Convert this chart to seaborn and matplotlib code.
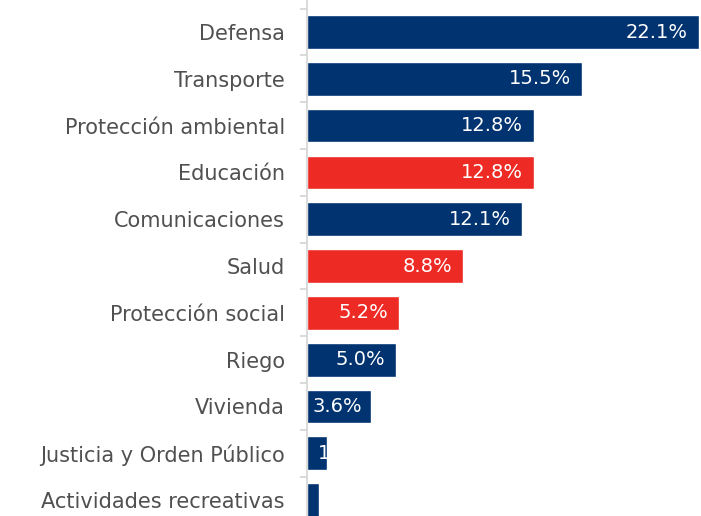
import matplotlib
matplotlib.use("Agg")
import matplotlib.pyplot as plt
import seaborn as sns
import pandas as pd
import numpy as np

categories = ["Defensa", "Transporte", "Protección ambiental", "Educación",
              "Comunicaciones", "Salud", "Protección social", "Riego",
              "Vivienda", "Justicia y Orden Público", "Actividades recreativas"]
values = [22.1, 15.5, 12.8, 12.8, 12.1, 8.8, 5.2, 5.0, 3.6, 1.1, 0.7]
highlight = [False, False, False, True, False, True, True, False, False, False, False]

NAVY = "#003370"
RED = "#ee2a24"

df = pd.DataFrame({"cat": categories, "val": values,
                   "grp": ["h" if h else "n" for h in highlight]})

sns.set_theme(style="white")
plt.rcParams['font.family'] = ['DejaVu Sans']

fig = plt.figure(figsize=(7.01, 5.16), dpi=100)
ax = fig.add_axes([307/701, 0, 1 - 307/701, 1])

sns.barplot(data=df, y="cat", x="val", hue="grp", order=categories,
            palette={"n": NAVY, "h": RED}, dodge=False, width=0.72,
            legend=False, ax=ax, saturation=1)

ax.set_xlim(0, 22.2)
ax.set_ylim(10.34, -0.684)
ax.set_xlabel("")
ax.set_ylabel("")
ax.set_xticks([])
for s in ["top", "right", "bottom"]:
    ax.spines[s].set_visible(False)
ax.spines["left"].set_color("#d4d4d4")
ax.spines["left"].set_linewidth(1.2)

ax.tick_params(axis="y", which="major", left=False, length=0, pad=16,
               labelsize=15, labelcolor="#505050")
ax.set_yticks(np.arange(len(categories)) - 0.5, minor=True)
ax.tick_params(axis="y", which="minor", left=True, length=5, width=1.2,
               color="#d4d4d4")

patches = sorted(ax.patches, key=lambda p: p.get_y())
for i, v in enumerate(values):
    label = f"{v:.1f}%"
    if v >= 4.5:
        ax.annotate(label, xy=(v, i), xytext=(-8, 0), textcoords="offset points",
                    ha="right", va="center", color="white", fontsize=14)
    else:
        off = 4 if v >= 2 else 8
        t = ax.annotate(label, xy=(0, i), xytext=(off, 0), textcoords="offset points",
                        ha="left", va="center", color="white", fontsize=14)
        t.set_clip_path(patches[i])

fig.savefig("out.png", dpi=100, facecolor="white")
